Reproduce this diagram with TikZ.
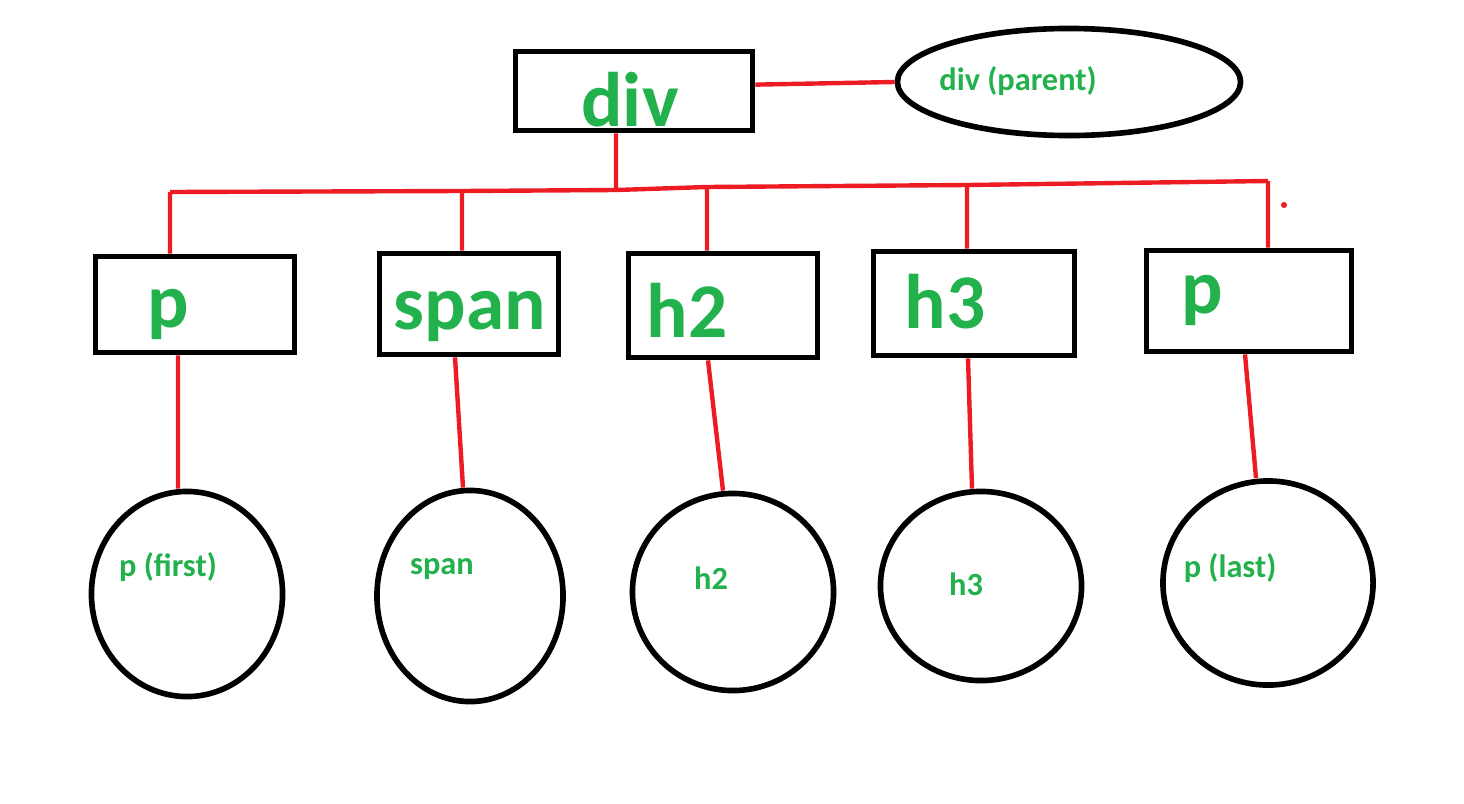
\documentclass[tikz,border=0pt]{standalone}
\usepackage{fontspec}
\setmainfont{Carlito}
\usetikzlibrary{shapes}
\definecolor{pred}{HTML}{ED1C24}
\definecolor{pgreen}{HTML}{22B14C}
\tikzstyle{bx} = [rectangle, draw, line width=1.6pt, inner sep=0pt]
\tikzstyle{el} = [ellipse, draw, line width=1.6pt, inner sep=0pt]
\tikzstyle{big} = [text=pgreen, inner sep=0pt, anchor=base,
    font=\bfseries\fontsize{22}{22}\selectfont]
\tikzstyle{small} = [text=pgreen, inner sep=0pt, anchor=base,
    font=\bfseries\fontsize{9.2}{9.2}\selectfont]
\tikzstyle{wire} = [draw=pred, line width=1.25pt]

\begin{document}
\begin{tikzpicture}[x=0.01cm,y=-0.01cm]
  \useasboundingbox (0,0) rectangle (1464,803);

  % boxes
  \node[bx,minimum width=2.37cm,minimum height=0.79cm] (div) at (634,91) {};
  \node[bx,minimum width=1.99cm,minimum height=0.96cm] (b1) at (195,304.5) {};
  \node[bx,minimum width=1.79cm,minimum height=1.01cm] (b2) at (469,304) {};
  \node[bx,minimum width=1.89cm,minimum height=1.04cm] (b3) at (723,305.5) {};
  \node[bx,minimum width=2.01cm,minimum height=1.04cm] (b4) at (974,303.5) {};
  \node[bx,minimum width=2.05cm,minimum height=1.01cm] (b5) at (1249,301) {};

  % ellipses
  \node[el,minimum width=3.43cm,minimum height=1.07cm] (par) at (1069,82) {};
  \node[el,minimum width=1.91cm,minimum height=2.05cm] (c1) at (187,594) {};
  \node[el,minimum width=1.86cm,minimum height=2.11cm] (c2) at (470,596) {};
  \node[el,minimum width=2.01cm,minimum height=1.97cm] (c3) at (733,592) {};
  \node[el,minimum width=2.01cm,minimum height=1.89cm] (c4) at (981,586) {};
  \node[el,minimum width=2.10cm,minimum height=2.04cm] (c5) at (1268,583) {};

  % labels
  \node[big] (ldiv) at (630,126) {div};
  \node[big] (l1) at (168,327) {p};
  \node[big] (l2) at (470,329) {span};
  \node[big] (l3) at (687,337) {h2};
  \node[big] (l4) at (945,328) {h3};
  \node[big] (l5) at (1202,313) {p};

  \node[small] (lpar) at (1018,90) {div (parent)};
  \node[small] (m1) at (168,576) {p (first)};
  \node[small] (m2) at (442,574) {span};
  \node[small] (m3) at (711,589) {h2};
  \node[small] (m4) at (966,595) {h3};
  \node[small] (m5) at (1230,577) {p (last)};

  % bus
  \coordinate (jdiv) at (616,190);
  \coordinate (t1) at (170,192);
  \coordinate (t2) at (462,191);
  \coordinate (t3) at (707,187);
  \coordinate (t4) at (967,185);
  \coordinate (t5) at (1268,181);

  \path[wire] (div.3) -- (par.west)
  (div.south -| jdiv) -- (jdiv)
  (t1) -- (t2) -- (jdiv) -- (t3) -- (t4) -- (t5)
  (t1) -- (t1 |- b1.north)
  (t2) -- (t2 |- b2.north)
  (t3) -- (t3 |- b3.north)
  (t4) -- (t4 |- b4.north)
  (t5) -- (t5 |- b5.north)

  (b1.south -| 178,0) -- (c1.north -| 178,0)
  (b2.south -| 455,0) -- (c2.north -| 463,0)
  (b3.south -| 708,0) -- (c3.north -| 723,0)
  (b4.south -| 968,0) -- (c4.north -| 972,0)
  (b5.south -| 1245,0) -- (c5.north -| 1256,0);

  \fill[pred] (1284,205) circle (3);
\end{tikzpicture}
\end{document}
